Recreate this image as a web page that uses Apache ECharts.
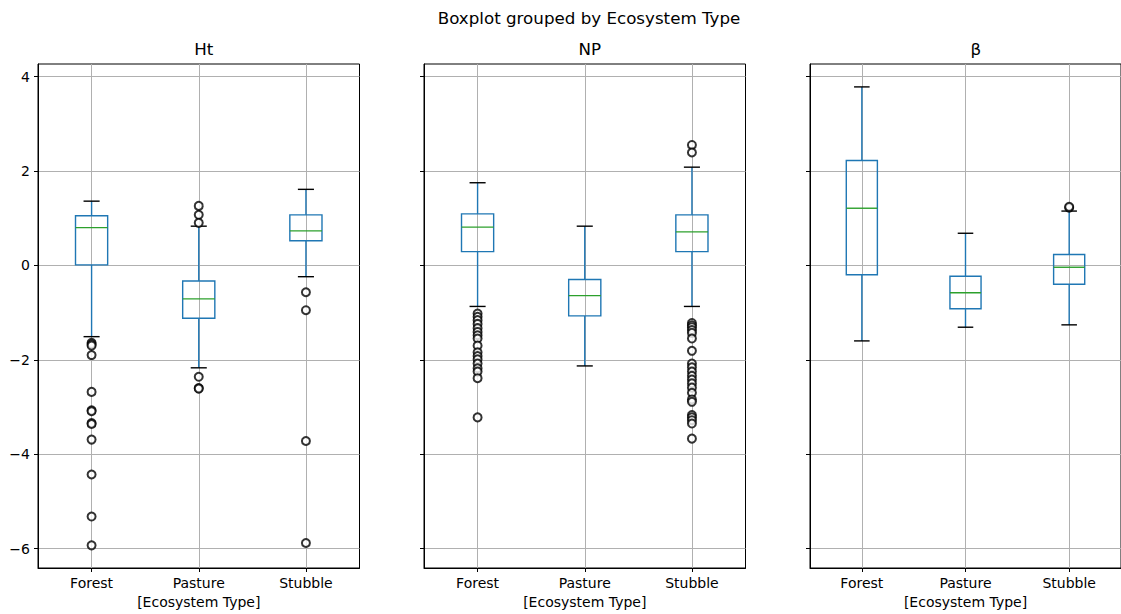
<!DOCTYPE html>
<html><head><meta charset="utf-8">
<script src="https://cdn.jsdelivr.net/npm/echarts@6/dist/echarts.min.js"></script>
<style>html,body{margin:0;padding:0;background:#fff}#c{width:1121px;height:614px}</style>
</head><body><div id="c"></div>
<script>
// ---- data ----
const categories = ['Forest', 'Pasture', 'Stubble'];
const yTicks = [-6, -4, -2, 0, 2, 4];
const panelTitles = ['Ht', 'NP', 'β'];

// [lower whisker, Q1, median, Q3, upper whisker] per category
const htBoxes = [
  [-1.51, 0.01, 0.80, 1.05, 1.36],
  [-2.17, -1.12, -0.71, -0.33, 0.83],
  [-0.24, 0.52, 0.73, 1.07, 1.61]
];
const htOutForest = [-1.64, -1.67, -1.70, -1.90, -2.68, -3.07, -3.09, -3.34, -3.36, -3.69, -4.43, -5.32, -5.93];
const htOutPasture = [1.26, 1.07, 0.90, -2.36, -2.60, -2.61];
const htOutStubble = [-0.57, -0.95, -3.72, -5.88];

const npBoxes = [
  [-0.87, 0.29, 0.81, 1.09, 1.75],
  [-2.13, -1.07, -0.64, -0.30, 0.83],
  [-0.87, 0.29, 0.71, 1.07, 2.08]
];
const npOutForest = [-1.02, -1.09, -1.16, -1.24, -1.33, -1.41, -1.48, -1.55, -1.70, -1.84, -1.92, -1.99, -2.08, -2.18, -2.25, -2.39, -3.22];
const npOutPasture = [];
const npOutStubble = [2.55, 2.39, -1.22, -1.27, -1.31, -1.37, -1.43, -1.55, -1.81, -2.08, -2.16, -2.25, -2.34, -2.42, -2.50, -2.59, -2.70, -2.84, -2.89, -3.17, -3.22, -3.28, -3.35, -3.67];

const betaBoxes = [
  [-1.60, -0.20, 1.21, 2.22, 3.78],
  [-1.31, -0.92, -0.58, -0.23, 0.68],
  [-1.26, -0.40, -0.04, 0.23, 1.15]
];
const betaOutForest = [];
const betaOutPasture = [];
const betaOutStubble = [1.22, 1.24];

// ---- layout / style ----
const panels = [
  { boxes: htBoxes, outs: [htOutForest, htOutPasture, htOutStubble] },
  { boxes: npBoxes, outs: [npOutForest, npOutPasture, npOutStubble] },
  { boxes: betaBoxes, outs: [betaOutForest, betaOutPasture, betaOutStubble] }
];
const gridLefts = [38, 424, 810];
const gridW = 321.5, gridTop = 64, gridH = 504;
const FONT = 'DejaVu Sans';
const BLUE = '#1f77b4', GREEN = '#2ca02c';

function renderBox(params, api) {
  const x = api.value(0);
  const lo = api.value(1), q1 = api.value(2), med = api.value(3), q3 = api.value(4), hi = api.value(5);
  const band = api.size([1, 0])[0];
  const hb = band * 0.15, hc = band * 0.075;
  const c = v => api.coord([x, v]);
  const pLo = c(lo), pQ1 = c(q1), pMed = c(med), pQ3 = c(q3), pHi = c(hi);
  const cx = pLo[0];
  const lw = 1.4;
  return {
    type: 'group',
    children: [
      { type: 'line', shape: { x1: cx, y1: pQ1[1], x2: cx, y2: pLo[1] }, style: { stroke: BLUE, lineWidth: lw } },
      { type: 'line', shape: { x1: cx, y1: pQ3[1], x2: cx, y2: pHi[1] }, style: { stroke: BLUE, lineWidth: lw } },
      { type: 'line', shape: { x1: cx - hc, y1: pLo[1], x2: cx + hc, y2: pLo[1] }, style: { stroke: '#000', lineWidth: lw } },
      { type: 'line', shape: { x1: cx - hc, y1: pHi[1], x2: cx + hc, y2: pHi[1] }, style: { stroke: '#000', lineWidth: lw } },
      { type: 'rect', shape: { x: cx - hb, y: pQ3[1], width: 2 * hb, height: pQ1[1] - pQ3[1] }, style: { fill: 'none', stroke: BLUE, lineWidth: lw } },
      { type: 'line', shape: { x1: cx - hb, y1: pMed[1], x2: cx + hb, y2: pMed[1] }, style: { stroke: GREEN, lineWidth: lw } }
    ]
  };
}

const grid = [], xAxis = [], yAxis = [], series = [], title = [];
title.push({ text: 'Boxplot grouped by Ecosystem Type', left: 584, top: 4, textAlign: 'center',
  textStyle: { fontFamily: FONT, fontSize: 16.7, fontWeight: 'normal', color: '#000' } });

panels.forEach((p, i) => {
  grid.push({ left: gridLefts[i], top: gridTop, width: gridW, height: gridH, show: true,
    borderColor: '#000', borderWidth: 1, backgroundColor: 'transparent' });
  title.push({ text: panelTitles[i], left: gridLefts[i] + gridW / 2, top: 35, textAlign: 'center',
    textStyle: { fontFamily: FONT, fontSize: 16.7, fontWeight: 'normal', color: '#000' } });
  xAxis.push({
    gridIndex: i, type: 'category', data: categories, boundaryGap: true, position: 'bottom',
    name: '[Ecosystem Type]', nameLocation: 'middle', nameGap: 27,
    nameTextStyle: { fontFamily: FONT, fontSize: 14, color: '#000' },
    axisLine: { show: true, onZero: false, lineStyle: { color: '#000', width: 1 } },
    axisTick: { show: true, alignWithLabel: true, length: 4, lineStyle: { color: '#000' } },
    axisLabel: { fontFamily: FONT, fontSize: 14, color: '#000', margin: 8 },
    splitLine: { show: true, alignWithLabel: true, lineStyle: { color: '#b0b0b0', width: 1 } }
  });
  yAxis.push({
    gridIndex: i, type: 'value', min: -6.41, max: 4.265,
    axisLine: { show: true, onZero: false, lineStyle: { color: '#000', width: 1 } },
    axisTick: { show: true, length: 4, customValues: yTicks, lineStyle: { color: '#000' } },
    axisLabel: { show: i === 0, customValues: yTicks, margin: 8, fontFamily: FONT, fontSize: 14, color: '#000',
      formatter: v => v < 0 ? '\u2212' + Math.abs(v) : String(v) },
    splitLine: { show: true, lineStyle: { color: '#b0b0b0', width: 1 } }
  });
  series.push({
    type: 'custom', xAxisIndex: i, yAxisIndex: i, renderItem: renderBox,
    encode: { x: 0, y: [1, 2, 3, 4, 5] },
    data: p.boxes.map((b, k) => [k].concat(b)), z: 3
  });
  const pts = [];
  p.outs.forEach((arr, k) => arr.forEach(v => pts.push([k, v])));
  series.push({
    type: 'scatter', xAxisIndex: i, yAxisIndex: i, data: pts,
    symbol: 'emptyCircle', symbolSize: 8,
    itemStyle: { color: '#000', borderColor: '#000', borderWidth: 1.2 }, z: 4
  });
});

const chart = echarts.init(document.getElementById('c'), null, { renderer: 'svg' });
chart.setOption({ animation: false, backgroundColor: '#fff', title, grid, xAxis, yAxis, series });
</script></body></html>
